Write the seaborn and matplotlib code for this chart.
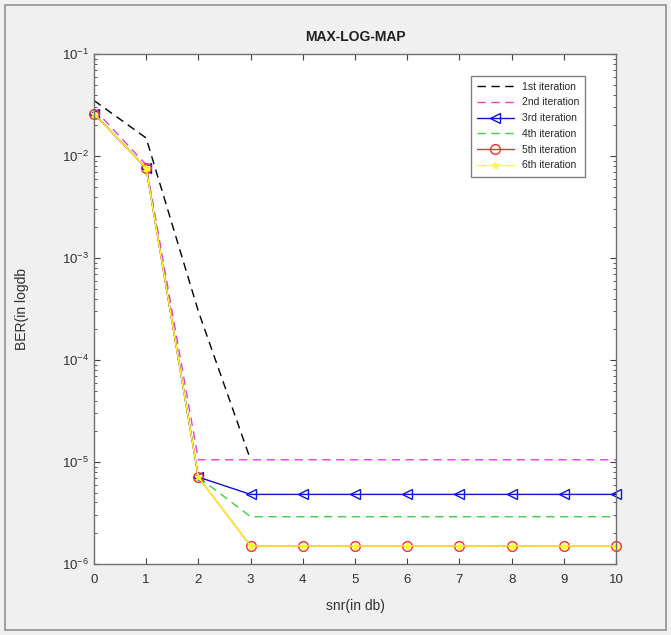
import numpy as np
import pandas as pd
import matplotlib
matplotlib.use("Agg")
import matplotlib.pyplot as plt
import seaborn as sns
from matplotlib.ticker import LogLocator, NullFormatter
from matplotlib.patches import Rectangle

snr = [0, 1, 2, 3, 4, 5, 6, 7, 8, 9, 10]
ber_1st = [0.035, 0.015, 3.0e-4, 1.05e-5, np.nan, np.nan, np.nan, np.nan, np.nan, np.nan, np.nan]
ber_2nd = [0.029, 0.0082, 1.05e-5, 1.05e-5, 1.05e-5, 1.05e-5, 1.05e-5, 1.05e-5, 1.05e-5, 1.05e-5, 1.05e-5]
ber_3rd = [0.026, 0.0076, 7.1e-6, 4.8e-6, 4.8e-6, 4.8e-6, 4.8e-6, 4.8e-6, 4.8e-6, 4.8e-6, 4.8e-6]
ber_4th = [0.026, 0.0076, 7.1e-6, 2.9e-6, 2.9e-6, 2.9e-6, 2.9e-6, 2.9e-6, 2.9e-6, 2.9e-6, 2.9e-6]
ber_5th = [0.026, 0.0076, 7.1e-6, 1.5e-6, 1.5e-6, 1.5e-6, 1.5e-6, 1.5e-6, 1.5e-6, 1.5e-6, 1.5e-6]
ber_6th = [0.026, 0.0076, 7.1e-6, 1.5e-6, 1.5e-6, 1.5e-6, 1.5e-6, 1.5e-6, 1.5e-6, 1.5e-6, 1.5e-6]
labels = ["1st iteration", "2nd iteration", "3rd iteration",
          "4th iteration", "5th iteration", "6th iteration"]

sns.set_style("ticks")
plt.rcParams['font.family'] = ['Liberation Sans', 'DejaVu Sans']

fig = plt.figure(figsize=(6.71, 6.35), dpi=100, facecolor="#f0f0f0")
ax = fig.add_axes([0.140, 0.112, 0.778, 0.803])
ax.set_facecolor("white")

styles = [
    dict(color="black", ls=(0, (6, 4)), marker="None", ms=0, mfc="none"),
    dict(color="#e040e0", ls=(0, (6, 4)), marker="None", ms=0, mfc="none"),
    dict(color="#1010e0", ls="-", marker="<", ms=7, mfc="none"),
    dict(color="#40d040", ls=(0, (6, 4)), marker="None", ms=0, mfc="none"),
    dict(color="#f03030", ls="-", marker="o", ms=7, mfc="none"),
    dict(color="#ffff20", ls="-", marker="*", ms=5, mfc="#ffff20"),
]
series = [ber_1st, ber_2nd, ber_3rd, ber_4th, ber_5th, ber_6th]
for lab, vals, st in zip(labels, series, styles):
    df = pd.DataFrame({"snr": snr, "ber": vals}).dropna()
    sns.lineplot(data=df, x="snr", y="ber", ax=ax, label=lab, linewidth=1.0,
                 color=st["color"])
    ln = ax.lines[-1]
    ln.set_linestyle(st["ls"])
    ln.set_marker(st["marker"])
    ln.set_markersize(st["ms"])
    ln.set_markerfacecolor(st["mfc"])
    ln.set_markeredgecolor(st["color"])
    ln.set_markeredgewidth(1.0)
    ln.set_clip_on(False)

ax.set_yscale("log")
ax.set_xlim(0, 10)
ax.set_ylim(1e-6, 1e-1)
ax.set_xticks(range(0, 11))
ax.yaxis.set_major_locator(LogLocator(base=10, numticks=10))
ax.yaxis.set_minor_locator(LogLocator(base=10, subs=np.arange(2, 10), numticks=20))
ax.yaxis.set_minor_formatter(NullFormatter())
ax.tick_params(which="both", direction="in", top=True, right=True, colors="#404040",
               labelcolor="#303030", labelsize=9.5)
ax.tick_params(axis="x", pad=7)
ax.tick_params(which="major", length=4)
ax.tick_params(which="minor", length=2)
for s in ax.spines.values():
    s.set_color("#707070")
    s.set_linewidth(1.0)

ax.set_xlabel("snr(in db)", fontsize=10, color="#303030", labelpad=10)
ax.set_ylabel("BER(in logdb", fontsize=10, color="#303030", labelpad=24)
ax.set_title("MAX-LOG-MAP", fontsize=10, fontweight="bold", color="#202020", pad=9)

leg = ax.legend(loc="upper left", bbox_to_anchor=(0.712, 0.968), fontsize=7.5,
                frameon=True, fancybox=False, edgecolor="#606060",
                handlelength=3.5, borderpad=0.6, labelspacing=0.55)
leg.get_frame().set_linewidth(1.0)

fig.patches.append(Rectangle((0.008, 0.008), 0.984, 0.984, transform=fig.transFigure,
                             fill=False, edgecolor="#909090", linewidth=1.2))

fig.savefig("out.png", dpi=100, facecolor=fig.get_facecolor())
